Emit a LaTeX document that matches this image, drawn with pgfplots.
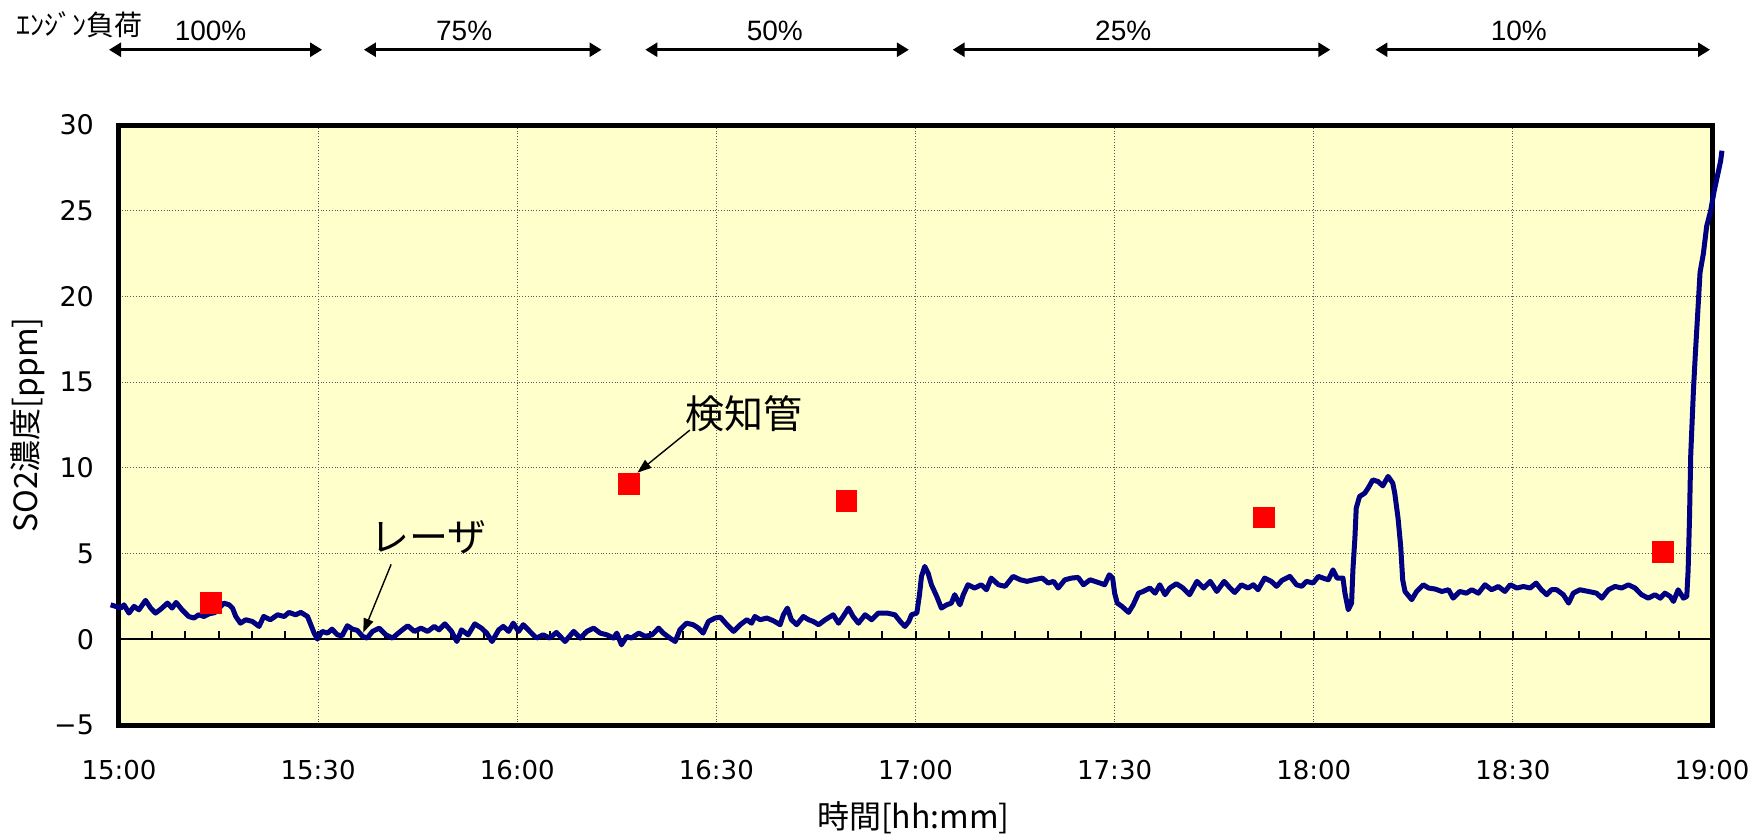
\documentclass[border=0pt]{standalone}
\usepackage{fontspec}
\setmainfont{Liberation Sans}
\newfontfamily\jp{Noto Sans CJK JP}
\newfontfamily\dv{DejaVu Sans}
\usepackage{pgfplots}
\usepackage{pgfplotstable}
\pgfplotsset{compat=1.18}
\usetikzlibrary{arrows.meta}

\definecolor{bgyellow}{HTML}{FFFFCC}
\definecolor{laser}{HTML}{000080}

% SO2 concentration from the laser analyser (minutes after 15:00, ppm)
\pgfplotstableread{
t v
-1.26 2.01
-0.5 1.92
0.25 1.82
0.75 2.01
1.5 1.53
2.26 1.92
3.0 1.72
4.0 2.27
4.77 1.82
5.5 1.53
6.3 1.76
7.3 2.11
8.0 1.82
8.6 2.15
9.5 1.72
10.5 1.33
11.3 1.24
12.0 1.43
12.8 1.33
13.6 1.49
14.4 1.55
15.1 1.82
15.8 2.11
16.6 2.01
17.1 1.82
17.6 1.33
18.3 0.94
19.1 1.14
20.1 1.04
21.1 0.75
21.8 1.33
22.8 1.14
23.9 1.43
24.9 1.33
25.6 1.57
26.6 1.43
27.4 1.57
28.4 1.33
28.9 0.85
29.4 0.36
29.9 0.01
30.6 0.46
31.4 0.36
32.1 0.59
32.9 0.26
33.6 0.2
34.4 0.79
35.2 0.59
35.9 0.52
36.7 0.17
37.4 0.07
38.2 0.46
39.2 0.65
40.2 0.26
41.2 0.07
42.4 0.46
43.5 0.79
44.5 0.46
45.5 0.65
46.5 0.46
47.5 0.75
48.2 0.55
49.1 0.9
50.1 0.46
50.9 -0.13
51.6 0.55
52.6 0.26
53.6 0.9
54.6 0.65
55.4 0.36
56.2 -0.13
57.2 0.55
57.9 0.75
58.7 0.46
59.4 0.94
60.2 0.46
60.9 0.85
61.9 0.46
62.9 0.07
63.9 0.26
64.9 0.07
65.9 0.4
67.2 -0.13
68.5 0.46
69.5 0.07
70.5 0.46
71.5 0.65
72.5 0.36
73.5 0.26
74.5 0.07
75.0 0.36
75.7 -0.32
76.5 0.17
77.2 0.07
78.3 0.36
79.3 0.17
80.3 0.26
81.3 0.65
82.0 0.36
83.0 0.07
83.8 -0.13
84.5 0.55
85.5 0.94
86.5 0.85
87.3 0.65
88.0 0.36
88.8 1.04
89.8 1.24
90.6 1.29
91.6 0.85
92.6 0.46
93.6 0.85
94.6 1.14
95.3 0.94
95.8 1.33
96.6 1.14
97.6 1.24
98.6 1.08
99.6 0.85
100.1 1.43
100.7 1.82
101.3 1.14
102.1 0.85
103.1 1.33
103.9 1.14
104.6 1.04
105.4 0.85
106.4 1.14
107.6 1.43
108.4 0.94
109.1 1.33
109.9 1.82
110.6 1.33
111.4 0.94
112.4 1.43
113.4 1.14
114.4 1.53
115.7 1.53
116.9 1.43
117.7 1.04
118.4 0.75
119.0 1.04
119.4 1.43
120.2 1.53
120.6 2.6
120.9 3.67
121.4 4.25
121.9 3.86
122.4 3.18
123.2 2.5
123.9 1.82
124.7 2.01
125.4 2.11
125.9 2.6
126.7 2.01
127.2 2.6
127.9 3.18
128.9 2.99
129.9 3.18
130.7 2.89
131.4 3.57
132.5 3.18
133.5 3.09
134.7 3.67
135.8 3.47
136.8 3.38
137.8 3.47
139.1 3.57
140.0 3.28
140.8 3.38
141.5 2.99
142.5 3.47
143.5 3.57
144.5 3.61
145.3 3.18
146.3 3.47
147.0 3.38
147.8 3.28
148.5 3.18
149.2 3.76
149.7 3.57
150.0 2.69
150.4 2.11
151.1 1.92
152.1 1.57
152.8 2.01
153.6 2.69
154.3 2.79
155.3 2.99
156.1 2.69
156.8 3.18
157.6 2.6
158.3 2.99
159.3 3.24
160.3 2.99
161.3 2.6
162.4 3.38
163.4 2.99
164.4 3.38
165.4 2.79
166.5 3.38
167.4 2.99
168.1 2.73
169.1 3.18
170.1 2.99
170.9 3.18
171.6 2.89
172.6 3.57
173.6 3.38
174.4 3.09
175.2 3.43
176.4 3.67
177.4 3.18
178.2 3.09
178.9 3.38
179.9 3.28
180.7 3.67
181.4 3.57
182.2 3.47
182.9 4.05
183.5 3.57
184.4 3.57
184.7 2.69
185.2 1.72
185.7 2.11
185.9 4.05
186.2 5.9
186.4 7.65
186.9 8.33
187.7 8.53
188.2 8.82
188.9 9.3
189.7 9.2
190.4 8.95
191.2 9.5
191.9 9.11
192.2 8.53
192.7 7.07
193.1 5.42
193.4 3.47
193.75 2.79
194.76 2.31
195.5 2.79
196.5 3.18
197.3 2.99
198.3 2.93
199.3 2.79
200.3 2.89
201.0 2.4
202.0 2.79
203.0 2.69
203.8 2.89
204.8 2.69
205.8 3.18
206.8 2.89
207.8 3.08
208.8 2.79
209.6 3.18
210.6 2.99
211.6 3.08
212.6 2.99
213.5 3.28
214.3 2.89
215.1 2.6
215.8 2.89
216.6 2.89
217.6 2.6
218.4 2.11
219.1 2.69
220.1 2.89
221.4 2.79
222.6 2.69
223.4 2.4
224.4 2.89
225.4 3.08
226.4 2.99
227.4 3.18
228.4 2.99
229.4 2.6
230.4 2.4
231.4 2.6
232.2 2.4
232.9 2.69
233.7 2.5
234.2 2.21
234.9 2.89
235.7 2.4
236.2 2.5
236.4 4.0
236.6 6.9
236.8 10.8
237.2 14.5
237.5 16.7
237.8 18.7
238.2 21.4
238.7 22.5
239.2 24.1
239.8 25.0
240.3 26.1
240.8 27.0
241.3 27.9
241.5 28.5
}\laserdata

% detector tube readings
\pgfplotstableread{
t v
13.9 2.13
76.8 9.07
109.6 8.09
172.55 7.11
232.6 5.09
}\tubedata

\pgfplotsset{
  plotframe/.style={
    at={(59.5pt,56pt)}, anchor=south west,
    scale only axis, width=796.5pt, height=300pt,
    xmin=0, xmax=240, ymin=-5, ymax=30,
  },
}

\begin{document}
\begin{tikzpicture}
\useasboundingbox (0,0) rectangle (876.5pt,418.5pt);
\begin{axis}[
  plotframe,
  clip=false,
  axis background/.style={fill=bgyellow},
  axis line style={line width=2.5pt, line join=miter},
  major tick length=0pt,
  xtick={0,30,...,240},
  xticklabels={15:00,15:30,16:00,16:30,17:00,17:30,18:00,18:30,19:00},
  ytick={-5,0,...,30},
  yticklabels={−5,0,5,10,15,20,25,30},
  xticklabel style={font=\dv\fontsize{13}{15}\selectfont, yshift=-14pt},
  yticklabel style={font=\dv\fontsize{13.5}{15}\selectfont, xshift=-9pt},
  grid=major,
  major grid style={densely dotted, black!65, line width=0.5pt},
]
\end{axis}
% zero line and its 5-minute ticks (56pt + 5/35 of 300pt above the page bottom)
\draw[line width=0.9pt] (59.5pt,98.857pt) -- (856pt,98.857pt);
\foreach \i in {1,...,47} {
  \draw[line width=1pt] ({59.5pt+\i*16.59375pt},98.857pt) -- ++(0pt,4pt);
}
\begin{axis}[
  plotframe,
  clip=false,
  hide axis,
]
\addplot[laser, line width=2.5pt, line join=round, mark=none] table[x=t,y=v] {\laserdata};
\addplot[red, only marks, mark=square*, mark size=5.2pt, mark options={fill=red, draw=red, line width=0pt}] table[x=t,y=v] {\tubedata};

% labels for the two series
\node[font=\jp\fontsize{19.5}{22}\selectfont] at (axis cs:94.1,13.17) {検知管};
\draw[line width=0.7pt, -{Triangle[length=7pt,width=5pt]}] (axis cs:86.0,12.2) -- (axis cs:78.1,9.72);
\node[font=\jp\fontsize{19.5}{22}\selectfont] at (axis cs:46.6,5.93) {レーザ};
\draw[line width=0.7pt, -{Triangle[length=7pt,width=5pt]}] (axis cs:41.0,4.37) -- (axis cs:36.8,0.39);

% engine load periods
\node[font=\jp\fontsize{14}{16}\selectfont] at (axis cs:-6.0,35.87) {ｴﾝｼﾞﾝ負荷};
\tikzset{loadarrow/.style={line width=1.3pt, {Triangle[length=6pt,width=7pt]}-{Triangle[length=6pt,width=7pt]}}}
\draw[loadarrow] (axis cs:-1.5,34.39) -- (axis cs:30.6,34.39);
\draw[loadarrow] (axis cs:36.9,34.39) -- (axis cs:72.7,34.39);
\draw[loadarrow] (axis cs:79.3,34.39) -- (axis cs:119.0,34.39);
\draw[loadarrow] (axis cs:125.6,34.39) -- (axis cs:182.5,34.39);
\draw[loadarrow] (axis cs:189.3,34.39) -- (axis cs:239.7,34.39);
\tikzset{loadlabel/.style={font=\fontsize{14}{16}\selectfont}}
\node[loadlabel] at (axis cs:13.8,35.48) {100\%};
\node[loadlabel] at (axis cs:52.0,35.48) {75\%};
\node[loadlabel] at (axis cs:98.8,35.48) {50\%};
\node[loadlabel] at (axis cs:151.3,35.48) {25\%};
\node[loadlabel] at (axis cs:210.9,35.48) {10\%};
\end{axis}
\node[rotate=90, font=\jp\fontsize{16}{18}\selectfont] at (14pt,206pt) {SO2濃度[ppm]};
\node[font=\jp\fontsize{16}{18}\selectfont] at (456.7pt,9.5pt) {時間[hh:mm]};
\end{tikzpicture}
\end{document}
